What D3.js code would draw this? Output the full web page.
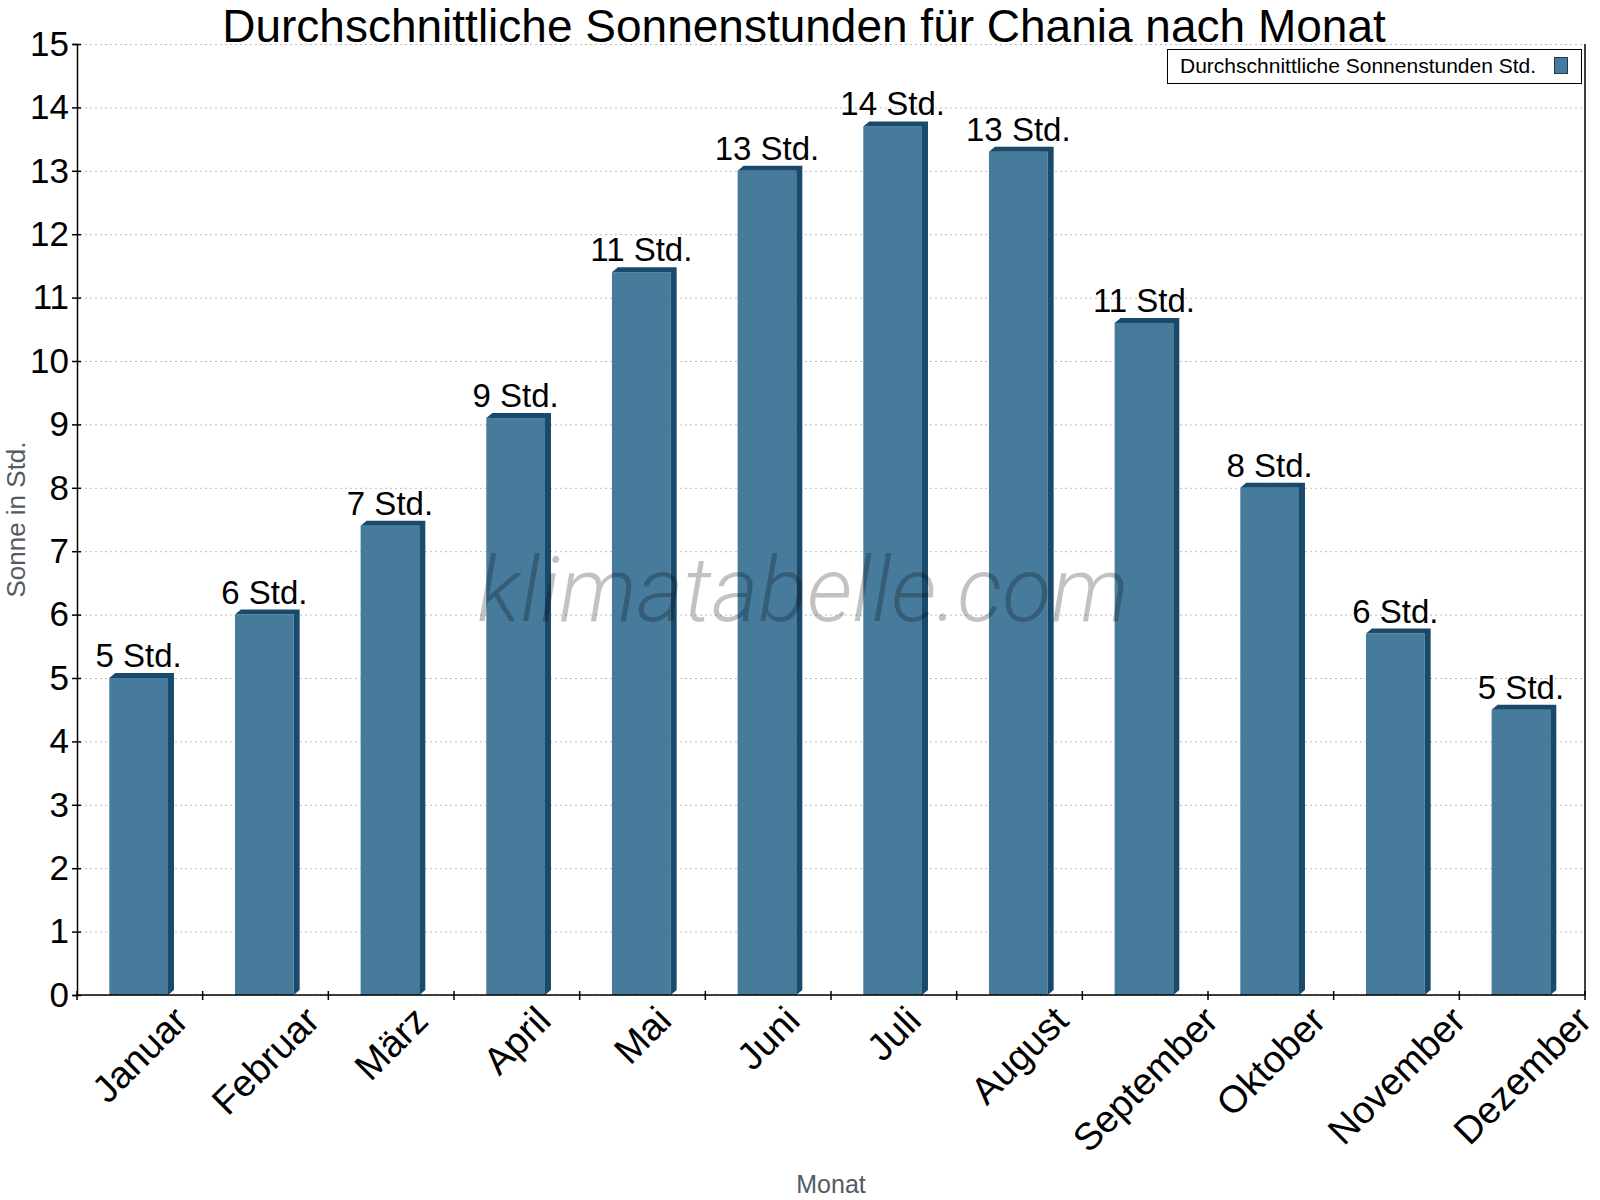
<!DOCTYPE html>
<html>
<head>
<meta charset="utf-8">
<script src="https://cdn.jsdelivr.net/npm/d3@7"></script>
<style>
  body { margin: 0; background: #fff; }
  svg { display: block; font-family: "Liberation Sans", Arial, sans-serif; }
</style>
</head>
<body>
<svg id="chart" width="1600" height="1200"></svg>
<script>
const months = ["Januar", "Februar", "März", "April", "Mai", "Juni", "Juli",
  "August", "September", "Oktober", "November", "Dezember"];
const sunHours = [5.0, 6.0, 7.4, 9.1, 11.4, 13.0, 13.7, 13.3, 10.6, 8.0, 5.7, 4.5];
const yTicks = d3.range(0, 16);

const width = 1600;
const height = 1200;
const margin = { top: 44, right: 15, bottom: 205, left: 77 };
const depthX = 6;
const depthY = 5;
const front = "#467b9c";
const side = "#1a4a6b";

const svg = d3.select("#chart");

const x = d3
  .scaleBand()
  .domain(months)
  .range([margin.left, width - margin.right]);

const y = d3
  .scaleLinear()
  .domain([0, 15])
  .range([height - margin.bottom, margin.top]);

const bw = x.bandwidth();
const barW = bw * 0.467;
const barX = (m) => x(m) + bw * 0.257;

// grid
svg
  .append("g")
  .selectAll("line")
  .data(yTicks)
  .join("line")
  .attr("x1", margin.left + 3)
  .attr("x2", width - margin.right)
  .attr("y1", (d) => y(d) + 0.5)
  .attr("y2", (d) => y(d) + 0.5)
  .attr("stroke", "#bdbdbd")
  .attr("stroke-width", 1)
  .attr("stroke-dasharray", "2,3");

// bars
const bars = svg
  .append("g")
  .selectAll("g")
  .data(months.map((m, i) => ({ m, v: sunHours[i] })))
  .join("g");

bars
  .append("rect")
  .attr("x", (d) => barX(d.m))
  .attr("y", (d) => y(d.v))
  .attr("width", barW)
  .attr("height", (d) => y(0) - y(d.v))
  .attr("fill", front);

bars
  .append("path")
  .attr("fill", side)
  .attr("d", (d) => {
    const x0 = barX(d.m);
    const x1 = x0 + barW;
    const t = y(d.v);
    const b = y(0);
    return `M${x0},${t}L${x0 + depthX},${t - depthY}L${x1 + depthX},${t - depthY}` +
      `L${x1 + depthX},${b - depthY}L${x1},${b}L${x1},${t}Z`;
  });

bars
  .append("text")
  .attr("x", (d) => barX(d.m) + barW / 2)
  .attr("y", (d) => y(d.v) - 11)
  .attr("text-anchor", "middle")
  .attr("font-size", 33)
  .attr("fill", "#000")
  .text((d) => `${Math.round(d.v)} Std.`);

// watermark
svg
  .append("text")
  .attr("x", 803)
  .attr("y", 621)
  .attr("text-anchor", "middle")
  .attr("font-family", "Roboto, sans-serif")
  .attr("font-weight", 300)
  .attr("font-style", "italic")
  .attr("font-size", 90)
  .attr("fill", "#000")
  .attr("fill-opacity", 0.24)
  .text("klimatabelle.com");

// y axis
const yAxis = svg
  .append("g")
  .attr("transform", `translate(${margin.left},0)`)
  .call(d3.axisLeft(y).tickValues(yTicks).tickSize(4).tickPadding(4));
yAxis.select(".domain").attr("stroke", "#000").attr("stroke-width", 1.5);
yAxis.selectAll(".tick line").attr("x2", 4).attr("x1", -5).attr("stroke-width", 1.5);
yAxis
  .selectAll(".tick text")
  .attr("font-size", 35)
  .attr("font-family", "Liberation Sans, Arial, sans-serif")
  .attr("fill", "#000");

// x axis line and ticks at band edges
const xAxis = svg.append("g");
xAxis
  .append("line")
  .attr("x1", margin.left)
  .attr("x2", width - margin.right)
  .attr("y1", y(0))
  .attr("y2", y(0))
  .attr("stroke", "#000")
  .attr("stroke-width", 1.5);
xAxis
  .selectAll(".edge")
  .data(months.concat(["end"]))
  .join("line")
  .attr("class", "edge")
  .attr("x1", (d, i) => (i < months.length ? x(d) : width - margin.right))
  .attr("x2", (d, i) => (i < months.length ? x(d) : width - margin.right))
  .attr("y1", y(0) - 4)
  .attr("y2", y(0) + 5)
  .attr("stroke", "#000")
  .attr("stroke-width", 1.5);

// right border
svg
  .append("line")
  .attr("x1", width - margin.right)
  .attr("x2", width - margin.right)
  .attr("y1", margin.top)
  .attr("y2", y(0))
  .attr("stroke", "#000")
  .attr("stroke-width", 1.5);

// month labels, rotated and centred under each band
const labelTop = 1004;
const labelSize = 38;
xAxis
  .selectAll(".month")
  .data(months)
  .join("text")
  .attr("class", "month")
  .attr("text-anchor", "middle")
  .attr("dominant-baseline", "central")
  .attr("font-size", labelSize)
  .attr("fill", "#000")
  .text((d) => d)
  .attr("transform", function (d) {
    const len = this.getComputedTextLength();
    const ext = (len + labelSize * 0.72) * Math.SQRT1_2;
    return `translate(${x(d) + bw / 2},${labelTop + ext / 2}) rotate(-45)`;
  });

// axis titles
svg
  .append("text")
  .attr("x", (margin.left + width - margin.right) / 2)
  .attr("y", 1193)
  .attr("text-anchor", "middle")
  .attr("font-size", 25)
  .attr("fill", "#555a60")
  .text("Monat");

svg
  .append("text")
  .attr("transform", `translate(25,${(margin.top + y(0)) / 2}) rotate(-90)`)
  .attr("text-anchor", "middle")
  .attr("font-size", 26)
  .attr("fill", "#555a60")
  .text("Sonne in Std.");

// title
svg
  .append("text")
  .attr("x", 804)
  .attr("y", 42)
  .attr("text-anchor", "middle")
  .attr("font-size", 46)
  .attr("fill", "#000")
  .text("Durchschnittliche Sonnenstunden für Chania nach Monat");

// legend
const legend = svg.append("g").attr("transform", "translate(1167,49)");
legend
  .append("rect")
  .attr("x", 0.5)
  .attr("y", 0.5)
  .attr("width", 414)
  .attr("height", 34)
  .attr("fill", "#fff")
  .attr("stroke", "#000");
legend
  .append("text")
  .attr("x", 13)
  .attr("y", 24)
  .attr("font-size", 21)
  .attr("fill", "#000")
  .text("Durchschnittliche Sonnenstunden Std.");
legend
  .append("rect")
  .attr("x", 387.5)
  .attr("y", 8.5)
  .attr("width", 13)
  .attr("height", 16)
  .attr("fill", front)
  .attr("stroke", "#1a3a50");
</script>
</body>
</html>
